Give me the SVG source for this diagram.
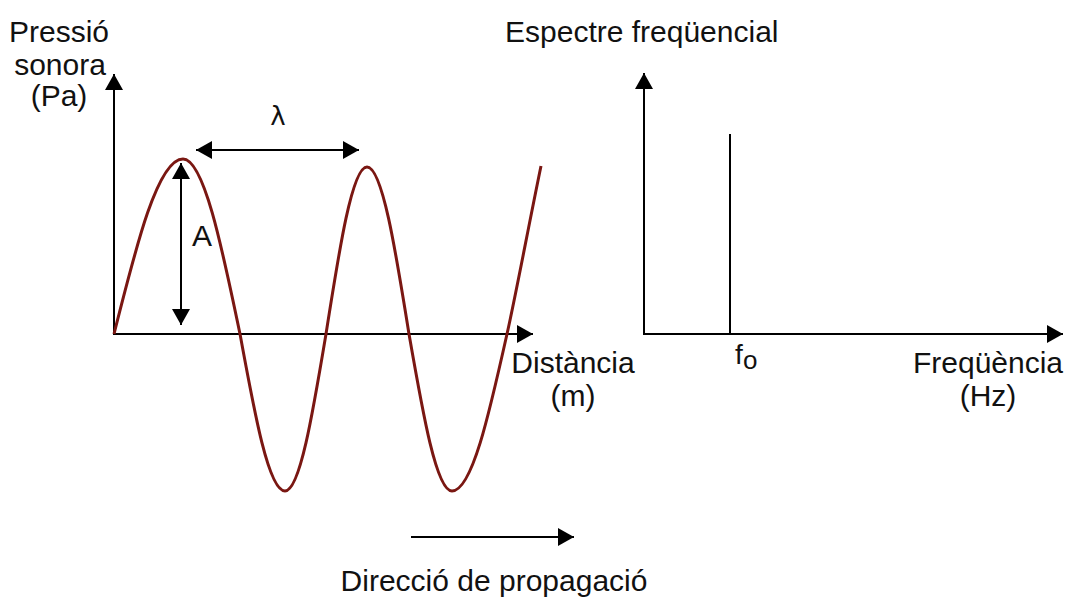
<svg xmlns="http://www.w3.org/2000/svg" width="1066" height="597" viewBox="0 0 1066 597">
<defs>
<style>
.ax{stroke:#000;stroke-width:2;fill:none}
.t{font-family:"Liberation Sans",Arial,sans-serif;font-size:30px;fill:#111}
.wave{stroke:#7a1712;stroke-width:3;fill:none;stroke-linejoin:round}
</style>
<marker id="ah" markerUnits="userSpaceOnUse" markerWidth="17" markerHeight="18" refX="16" refY="9" orient="auto-start-reverse" viewBox="0 0 16 18">
<path d="M0,0 L16,9 L0,18 z" fill="#000"/>
</marker>
</defs>
<rect width="1066" height="597" fill="#fff"/>
<g id="left-chart">
<g id="connectors">
<line class="ax" x1="114" y1="335" x2="114" y2="74" marker-end="url(#ah)"/>
<line class="ax" x1="113" y1="334" x2="533" y2="334" marker-end="url(#ah)"/>
<line class="ax" x1="196" y1="150" x2="359" y2="150" marker-start="url(#ah)" marker-end="url(#ah)"/>
<line class="ax" x1="181" y1="163" x2="181" y2="325" marker-start="url(#ah)" marker-end="url(#ah)"/>
<line class="ax" x1="411" y1="537" x2="574" y2="537" marker-end="url(#ah)"/>
</g>
<path id="wave" class="wave" d="M114,334 C136.5,244.3 158,159 183,159 C203.6,159 221.4,244.3 240,334 C254.7,414.4 268.7,491 285,491 C299.8,491 312.6,414.4 326,334 C339.4,248.4 352.2,167 367,167 C382.2,167 395.3,248.4 409,334 C423,414.4 436.4,491 452,491 C471.9,491 489.1,414.4 507,334 C516,294 528,229 541,166"/>
<g id="labels-left">
<text class="t" x="59" y="42" text-anchor="middle">Pressió</text>
<text class="t" x="60" y="75" text-anchor="middle">sonora</text>
<text class="t" x="59" y="106" text-anchor="middle">(Pa)</text>
<text class="t" x="278" y="125" text-anchor="middle" style="font-family:'DejaVu Sans',sans-serif;font-size:26px">λ</text>
<text class="t" x="192" y="246">A</text>
<text class="t" x="573" y="373" text-anchor="middle">Distància</text>
<text class="t" x="573" y="406" text-anchor="middle">(m)</text>
<text class="t" x="494" y="591" text-anchor="middle">Direcció de propagació</text>
</g>
</g>
<g id="right-chart">
<g id="connectors-right">
<line class="ax" x1="644" y1="335" x2="644" y2="73" marker-end="url(#ah)"/>
<line class="ax" x1="643" y1="334" x2="1063" y2="334" marker-end="url(#ah)"/>
<line class="ax" x1="730" y1="134" x2="730" y2="334"/>
</g>
<g id="labels-right">
<text class="t" x="505" y="42">Espectre freqüencial</text>
<text class="t" x="735" y="364" style="font-size:28px">f</text>
<text class="t" x="743" y="369" style="font-size:26px">o</text>
<text class="t" x="988" y="373" text-anchor="middle">Freqüència</text>
<text class="t" x="988" y="406" text-anchor="middle">(Hz)</text>
</g>
</g>
</svg>
